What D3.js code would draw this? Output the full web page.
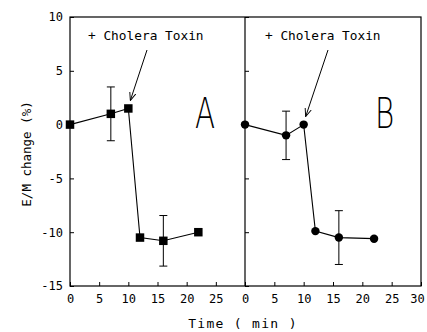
<!DOCTYPE html>
<html>
<meta charset="utf-8">
<script src="https://cdn.jsdelivr.net/npm/d3@7"></script>
<style>
  body { margin: 0; background: #fff; }
  text { font-family: "DejaVu Sans Mono", monospace; fill: #000; }
</style>
<body>
<svg width="427" height="332"></svg>
<script>
// panel A (squares)
var timeA = [0, 7, 10, 12, 16, 22];
var emA = [0, 1.0, 1.5, -10.5, -10.8, -10.0];
var errA = [0, 2.5, 0, 0, 2.35, 0];
// panel B (circles)
var timeB = [0, 7, 10, 12, 16, 22];
var emB = [0, -1.0, 0, -9.9, -10.5, -10.6];
var errB = [0, 2.25, 0, 0, 2.5, 0];

var yTicks = [10, 5, 0, -5, -10, -15];
var xTicksA = [0, 5, 10, 15, 20, 25];
var xTicksB = [0, 5, 10, 15, 20, 25, 30];

var svg = d3.select("svg");
var plotTop = 17, plotBottom = 286;
var y = d3.scaleLinear().domain([-15, 10]).range([plotBottom, plotTop]);
var xA = d3.scaleLinear().domain([0, 30]).range([70, 245]);
var xB = d3.scaleLinear().domain([0, 30]).range([245, 421]);
var fmt = d => String(d);

// frame
svg.append("rect")
  .attr("x", 70).attr("y", plotTop)
  .attr("width", 421 - 70).attr("height", plotBottom - plotTop)
  .attr("fill", "none").attr("stroke", "#000").attr("stroke-width", 1.2);
svg.append("line")
  .attr("x1", 245).attr("x2", 245).attr("y1", plotTop).attr("y2", plotBottom)
  .attr("stroke", "#000").attr("stroke-width", 1.2);

// y axis with labels (panel A)
svg.append("g")
  .attr("transform", "translate(70,0)")
  .call(d3.axisLeft(y).tickValues(yTicks).tickSize(-4).tickSizeOuter(0).tickPadding(7).tickFormat(fmt))
  .call(g => g.select(".domain").remove())
  .selectAll("text").style("font-size", "12px").style("font-family", "DejaVu Sans Mono");
// inner ticks on divider
svg.append("g")
  .attr("transform", "translate(245,0)")
  .call(d3.axisLeft(y).tickValues(yTicks).tickSize(-4).tickSizeOuter(0).tickFormat(""))
  .call(g => g.select(".domain").remove());

// x axes
function xAxis(scale, vals) {
  svg.append("g")
    .attr("transform", "translate(0," + plotBottom + ")")
    .call(d3.axisBottom(scale).tickValues(vals).tickSize(-4).tickSizeOuter(0).tickPadding(8).tickFormat(fmt))
    .call(g => g.select(".domain").remove())
    .selectAll("text")
    .style("font-size", "12px").style("font-family", "DejaVu Sans Mono")
    .attr("dx", d => d === 30 ? -4 : 0);
}
xAxis(xA, xTicksA);
xAxis(xB, xTicksB);

// axis titles
svg.append("text")
  .attr("transform", "translate(31,154)rotate(-90)")
  .attr("text-anchor", "middle")
  .style("font-size", "12.5px")
  .text("E/M change (%)");
svg.append("text")
  .attr("x", 243).attr("y", 328)
  .attr("text-anchor", "middle")
  .style("font-size", "13px").style("letter-spacing", "1.3px")
  .text("Time ( min )");

// arrowhead
svg.append("defs").append("marker")
  .attr("id", "arr").attr("viewBox", "0 0 10 10")
  .attr("refX", 10).attr("refY", 5)
  .attr("markerWidth", 8).attr("markerHeight", 8)
  .attr("markerUnits", "userSpaceOnUse")
  .attr("orient", "auto")
  .append("path").attr("d", "M0,1 L10,5 L0,9").attr("fill", "none").attr("stroke", "#000").attr("stroke-width", 1.2);

function panel(x, t, v, e, shape, label, labelX, note) {
  var g = svg.append("g");
  var pts = t.map((d, i) => ({t: d, v: v[i], e: e[i]}));
  g.append("path")
    .datum(pts)
    .attr("fill", "none").attr("stroke", "#000").attr("stroke-width", 1.1)
    .attr("d", d3.line().x(d => x(d.t)).y(d => y(d.v)));
  var eb = g.selectAll(".err").data(pts.filter(d => d.e > 0)).enter().append("g");
  eb.append("line")
    .attr("x1", d => x(d.t)).attr("x2", d => x(d.t))
    .attr("y1", d => y(d.v + d.e)).attr("y2", d => y(d.v - d.e))
    .attr("stroke", "#000");
  [1, -1].forEach(s => {
    eb.append("line")
      .attr("x1", d => x(d.t) - 4).attr("x2", d => x(d.t) + 4)
      .attr("y1", d => y(d.v + s * d.e)).attr("y2", d => y(d.v + s * d.e))
      .attr("stroke", "#000");
  });
  var sym = d3.symbol().type(shape).size(shape === d3.symbolSquare ? 72 : 56);
  g.selectAll(".pt").data(pts).enter().append("path")
    .attr("transform", d => "translate(" + x(d.t) + "," + y(d.v) + ")")
    .attr("d", sym).attr("fill", "#000");

  g.append("text")
    .attr("x", note.x).attr("y", 40)
    .style("font-size", "12.8px")
    .text("+ Cholera Toxin");
  g.append("line")
    .attr("x1", note.x1).attr("y1", 50).attr("x2", x(10) + 2).attr("y2", y(v[2]) - 8)
    .attr("stroke", "#000").attr("stroke-width", 1)
    .attr("marker-end", "url(#arr)");

  g.append("text")
    .attr("transform", "translate(" + labelX + ",128)scale(0.7,1)")
    .style("font-family", "DejaVu Sans").style("font-size", "42px")
    .style("font-weight", 200)
    .text(label);
}
panel(xA, timeA, emA, errA, d3.symbolSquare, "A", 195, {x: 88, x1: 147});
panel(xB, timeB, emB, errB, d3.symbolCircle, "B", 375, {x: 265, x1: 328});
</script>
</body>
</html>
